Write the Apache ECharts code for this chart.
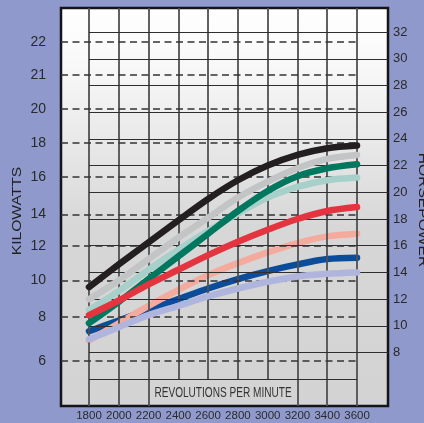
<!DOCTYPE html>
<html>
<head>
<meta charset="utf-8">
<script src="https://cdn.jsdelivr.net/npm/echarts@6/dist/echarts.min.js"></script>
<style>
  html, body { margin: 0; padding: 0; background: #8f99cc; }
  #chart { width: 424px; height: 423px; }
</style>
</head>
<body>
<div id="chart"></div>
<script>
// rpm ticks along the bottom
const rpm = [1800, 2000, 2200, 2400, 2600, 2800, 3000, 3200, 3400, 3600];
// these verticals run down through the bottom strip, the others stop at the 6 hp line
const rpmFullHeight = [1800, 2000, 2200, 3200, 3400, 3600];

// horsepower scale (right)
const hpLabels = [8, 10, 12, 14, 16, 18, 20, 22, 24, 26, 28, 30, 32];
const hpLines = [6, 8, 10, 12, 14, 16, 18, 20, 22, 24, 26, 28, 30, 32];

// kilowatt labels (left) and where each dashed line sits on the hp scale
const kwLabels = [22, 21, 20, 18, 16, 14, 12, 10, 8, 6];
const kwAt = [31.25, 28.78, 26.23, 23.69, 21.14, 18.33, 15.98, 13.39, 10.66, 7.39];

// curves, hp at each rpm tick
const black    = [12.9, 14.6, 16.25, 17.9, 19.5, 20.9, 22.0, 22.8, 23.3, 23.5];
const gray     = [12.0, 13.4, 15.0, 16.6, 18.1, 19.6, 20.8, 21.8, 22.5, 22.8];
const ltTeal   = [11.2, 12.6, 14.2, 15.7, 17.1, 18.4, 19.6, 20.4, 20.9, 21.1];
const dkTeal   = [10.2, 11.8, 13.5, 15.2, 16.9, 18.6, 20.1, 21.2, 21.8, 22.1];
const red      = [10.8, 11.9, 13.1, 14.2, 15.3, 16.3, 17.2, 18.0, 18.6, 18.9];
const salmon   = [8.9, 10.2, 11.5, 12.7, 13.8, 14.7, 15.5, 16.2, 16.7, 16.9];
const dkBlue   = [9.6, 10.4, 11.2, 12.0, 12.8, 13.5, 14.1, 14.6, 15.0, 15.1];
const lavender = [9.0, 9.9, 10.8, 11.5, 12.2, 12.8, 13.3, 13.7, 13.9, 14.0];

const font = "'Liberation Sans', Arial, sans-serif";

const chart = echarts.init(document.getElementById("chart"));

// bottom -> top drawing order
const curves = [
    { name: "dark blue", data: dkBlue, color: "#0b4c9b" },
    { name: "salmon", data: salmon, color: "#f4aa9d" },
    { name: "lavender", data: lavender, color: "#b0b5de" },
    { name: "light teal", data: ltTeal, color: "#a6d0c9" },
    { name: "dark teal", data: dkTeal, color: "#00775f" },
    { name: "red", data: red, color: "#e4343f" },
    { name: "gray", data: gray, color: "#c3c4c6" },
    { name: "black", data: black, color: "#231f20" },
];

function gridSeries(name, lines, style) {
    return {
        name: name,
        type: "line",
        data: [],
        silent: true,
        z: 1,
        markLine: {
            silent: true,
            animation: false,
            symbol: ["none", "none"],
            label: { show: false },
            emphasis: { disabled: true },
            lineStyle: style,
            data: lines,
        },
    };
}

const option = {
    backgroundColor: "#8f99cc",
    animation: false,
    grid: {
        left: 61, top: 8, right: 36, bottom: 17,
        show: true,
        borderColor: "#151515",
        borderWidth: 2.5,
        backgroundColor: new echarts.graphic.LinearGradient(0, 0, 0, 1, [
            { offset: 0, color: "#ffffff" },
            { offset: 0.15, color: "#f8f8f8" },
            { offset: 0.55, color: "#d7d7d7" },
            { offset: 1, color: "#d3d3d3" },
        ]),
    },
    xAxis: {
        type: "value",
        min: 1612,
        max: 3808,
        axisLine: { show: false },
        axisTick: { show: false },
        splitLine: { show: false },
        axisLabel: {
            customValues: rpm,
            showMinLabel: true,
            showMaxLabel: true,
            margin: 4,
            color: "#2a2a2a",
            fontSize: 11.5,
            fontFamily: font,
            formatter: v => String(v),
        },
    },
    yAxis: [
        {
            type: "value",
            position: "right",
            min: 4,
            max: 33.8,
            interval: 2,
            axisLine: { show: false },
            axisTick: { show: false },
            splitLine: { show: false },
            axisLabel: {
                margin: 5,
                color: "#2a2a2a",
                fontSize: 13,
                fontFamily: font,
                formatter: v => (hpLabels.includes(v) ? String(v) : ""),
            },
        },
        {
            type: "value",
            position: "left",
            min: 4,
            max: 33.8,
            axisLine: { show: false },
            axisTick: { show: false },
            splitLine: { show: false },
            axisLabel: {
                customValues: kwAt,
                margin: 15,
                color: "#2a2a2a",
                fontSize: 14,
                fontFamily: font,
                formatter: v => String(kwLabels[kwAt.indexOf(v)]),
            },
        },
    ],
    series: [
        gridSeries("rpm grid",
            rpm.map(r => [{ coord: [r, 33.8] }, { coord: [r, rpmFullHeight.includes(r) ? 4 : 6] }]),
            { color: "#505050", width: 1.8, type: "solid" }),
        gridSeries("hp grid",
            hpLines.map(h => [{ coord: [1800, h] }, { coord: [h === 6 ? 3600 : 3808, h] }]),
            { color: "#2e2e2e", width: 1.2, type: "solid" }),
        gridSeries("kw grid",
            kwAt.map(k => [{ coord: [1612, k] }, { coord: [3600, k] }]),
            { color: "#333333", width: 1.5, type: [7, 4.5] }),
        ...curves.map((c, i) => ({
            name: c.name,
            type: "line",
            data: rpm.map((r, j) => [r, c.data[j]]),
            smooth: 0.3,
            symbol: "none",
            silent: true,
            z: 3 + i,
            itemStyle: { color: c.color },
            lineStyle: { color: c.color, width: 6.5, cap: "round", join: "round" },
        })),
    ],
};

chart.setOption(option);

// texts placed from the chart's own scale
const rpmTitleAt = chart.convertToPixel({ xAxisIndex: 0, yAxisIndex: 0 }, [2700, 5]);

chart.setOption({
    graphic: [
        {
            type: "text",
            x: 18, y: 211,
            rotation: Math.PI / 2,
            scaleX: 1.3,
            style: {
                text: "KILOWATTS",
                font: "12px " + font,
                fill: "#222",
                textAlign: "center", textVerticalAlign: "middle",
                align: "center", verticalAlign: "middle",
            },
        },
        {
            type: "text",
            x: 422, y: 210,
            rotation: -Math.PI / 2,
            scaleX: 1.3,
            style: {
                text: "HORSEPOWER",
                font: "12px " + font,
                fill: "#222",
                textAlign: "center", textVerticalAlign: "middle",
                align: "center", verticalAlign: "middle",
            },
        },
        {
            type: "text",
            x: rpmTitleAt[0], y: rpmTitleAt[1],
            scaleX: 0.72,
            style: {
                text: "REVOLUTIONS PER MINUTE",
                font: "14px " + font,
                fill: "#333",
                textAlign: "center", textVerticalAlign: "middle",
                align: "center", verticalAlign: "middle",
            },
        },
    ],
});
</script>
</body>
</html>
